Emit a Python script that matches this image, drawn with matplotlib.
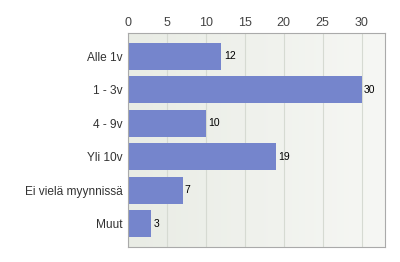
import matplotlib.pyplot as plt
import numpy as np

plt.rcParams['font.family'] = ['Liberation Sans', 'DejaVu Sans']

kategoriat = ['Alle 1v', '1 - 3v', '4 - 9v', 'Yli 10v', 'Ei vielä myynnissä', 'Muut']
arvot = [12, 30, 10, 19, 7, 3]
tikit = [0, 5, 10, 15, 20, 25, 30]

fig = plt.figure(figsize=(4, 2.62), dpi=100)
ax = fig.add_axes([0.32, 0.0573, 0.6425, 0.8167])

# kevyt taustagradientti
grad = np.linspace(0, 1, 100).reshape(1, -1)
ax.imshow(grad, extent=[0, 33, 5.7, -0.7], aspect='auto',
          cmap=plt.matplotlib.colors.LinearSegmentedColormap.from_list('bg', ['#e9ece5', '#f6f7f4']),
          zorder=0)

y = np.arange(len(kategoriat))
ax.barh(y, arvot, height=0.8, color='#7585cc', edgecolor='none', zorder=2)
for i, v in enumerate(arvot):
    ax.text(v + 0.3, i, str(v), va='center', ha='left', fontsize=7.5, color='black')

ax.set_xlim(0, 33)
ax.set_ylim(5.7, -0.7)
ax.set_xticks(tikit)
ax.xaxis.tick_top()
ax.tick_params(axis='x', length=0, labelsize=9, colors='#444444', pad=3)
ax.set_yticks(y)
ax.set_yticklabels(kategoriat)
ax.tick_params(axis='y', length=0, labelsize=8.6, colors='#333333', pad=4)
ax.grid(axis='x', color='#d6dad2', linewidth=0.8, zorder=1)
ax.set_axisbelow(True)
for s in ax.spines.values():
    s.set_color('#aaaaaa')
    s.set_linewidth(0.8)

fig.savefig('out.png', dpi=100, facecolor='white')
